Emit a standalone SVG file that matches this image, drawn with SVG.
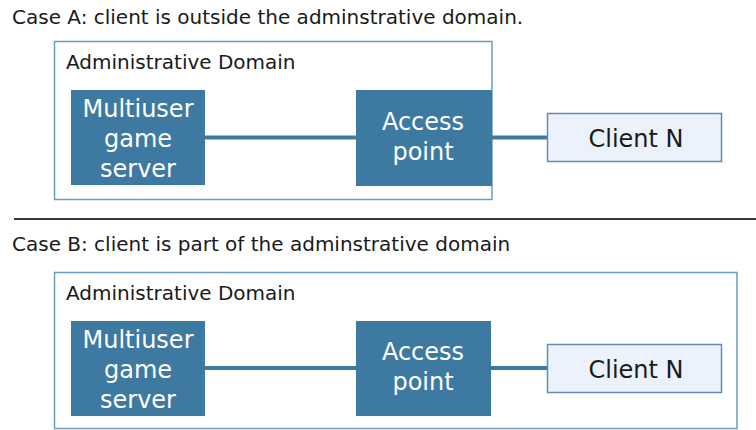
<svg xmlns="http://www.w3.org/2000/svg" width="756" height="430" viewBox="0 0 756 430">
<style>
text{font-family:"DejaVu Sans","Liberation Sans",sans-serif;}
.title{font-size:20px;fill:#1a1a1a;}
.dlabel{font-size:20px;fill:#1a1a1a;}
.domain{fill:#ffffff;stroke:#6b9dc2;stroke-width:1.5;}
.dark{fill:#3e79a1;}
.dtext{font-size:24px;fill:#ffffff;text-anchor:middle;}
.client{fill:#ebf2fc;stroke:#5d8db8;stroke-width:1.5;}
.ctext{font-size:24px;fill:#1a1a1a;text-anchor:middle;}
.link{stroke:#3e79a1;stroke-width:4;fill:none;}
</style>
<rect width="756" height="430" fill="#ffffff"/>

<text class="title" x="12" y="24">Case A: client is outside the adminstrative domain.</text>
<line x1="14" y1="219" x2="756" y2="219" stroke="#3a3a3a" stroke-width="2"/>
<text class="title" x="12" y="251">Case B: client is part of the adminstrative domain</text>

<g id="domainA">
<rect class="domain" x="54.5" y="41.5" width="437.5" height="158"/>
<text class="dlabel" x="66" y="69">Administrative Domain</text>
</g>
<g id="domainB">
<rect class="domain" x="54.5" y="272.5" width="682.5" height="156"/>
<text class="dlabel" x="66" y="300">Administrative Domain</text>
</g>

<g id="connectors">
<line class="link" x1="205" y1="137.5" x2="356" y2="137.5"/>
<line class="link" x1="492" y1="137.5" x2="547" y2="137.5"/>
<line class="link" x1="205" y1="368" x2="356" y2="368"/>
<line class="link" x1="491" y1="368" x2="547" y2="368"/>
</g>

<g id="serverA">
<rect class="dark" x="71" y="90" width="134" height="95"/>
<text class="dtext" x="138" y="117">Multiuser</text>
<text class="dtext" x="138" y="147">game</text>
<text class="dtext" x="138" y="177">server</text>
</g>
<g id="accessA">
<rect class="dark" x="356" y="90" width="136" height="96"/>
<text class="dtext" x="423" y="130">Access</text>
<text class="dtext" x="423" y="160">point</text>
</g>
<g id="clientA">
<rect class="client" x="547.5" y="113.5" width="174" height="48"/>
<text class="ctext" x="636" y="147">Client N</text>
</g>

<g id="serverB">
<rect class="dark" x="71" y="321" width="134" height="95"/>
<text class="dtext" x="138" y="348">Multiuser</text>
<text class="dtext" x="138" y="378">game</text>
<text class="dtext" x="138" y="408">server</text>
</g>
<g id="accessB">
<rect class="dark" x="356" y="321" width="135" height="95"/>
<text class="dtext" x="423" y="360">Access</text>
<text class="dtext" x="423" y="390">point</text>
</g>
<g id="clientB">
<rect class="client" x="547.5" y="344.5" width="174" height="48"/>
<text class="ctext" x="636" y="378">Client N</text>
</g>
</svg>
